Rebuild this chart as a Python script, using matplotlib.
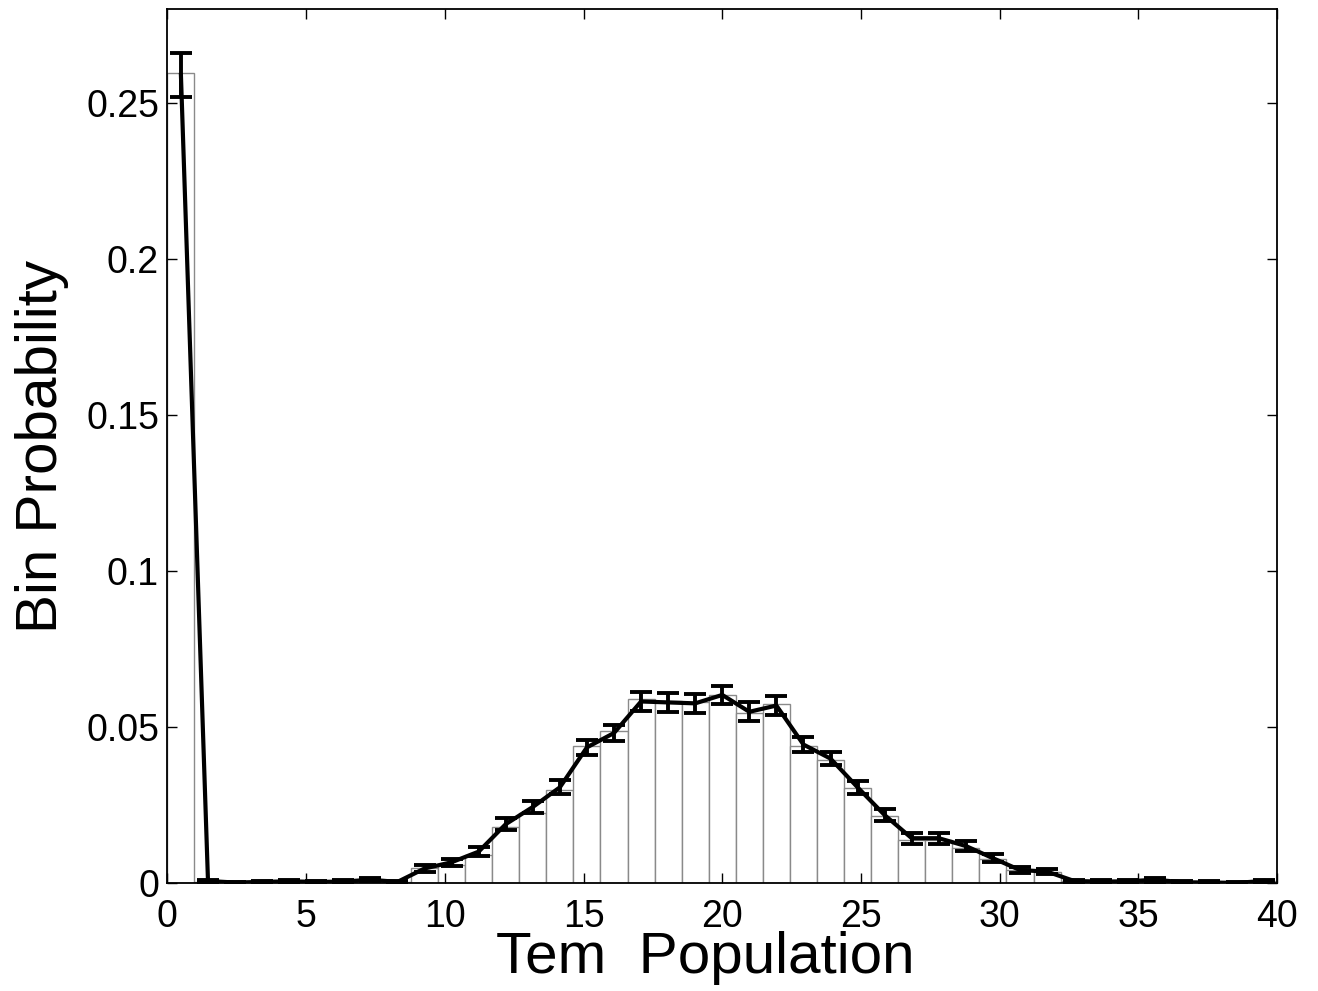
"""Histogram of Tem population with mean curve and error bars."""

import matplotlib
matplotlib.use("Agg")
import matplotlib.pyplot as plt
import numpy as np

# 41 bins spanning 0..40
BIN_EDGES = np.linspace(0, 40, 42)
BIN_CENTERS = (BIN_EDGES[:-1] + BIN_EDGES[1:]) / 2

BAR_PROB = [
    0.2595, 0.0006, 0.0003, 0.0005, 0.0007, 0.0005, 0.0006, 0.0010, 0.0006,
    0.0050, 0.0060, 0.0092, 0.0180, 0.0225, 0.0300, 0.0440, 0.0490,
    0.0590, 0.0585, 0.0580, 0.0605, 0.0545, 0.0575, 0.0440, 0.0395,
    0.0305, 0.0215, 0.0140, 0.0140, 0.0115, 0.0080, 0.0042, 0.0036,
    0.0008, 0.0006, 0.0007, 0.0011, 0.0004, 0.0003, 0.0002, 0.0008,
]

MEAN_PROB = [
    0.2590, 0.0008, 0.0003, 0.0005, 0.0007, 0.0005, 0.0006, 0.0012, 0.0005,
    0.0048, 0.0068, 0.0102, 0.0190, 0.0245, 0.0308, 0.0436, 0.0482,
    0.0583, 0.0580, 0.0577, 0.0604, 0.0550, 0.0570, 0.0445, 0.0400,
    0.0308, 0.0219, 0.0145, 0.0145, 0.0120, 0.0081, 0.0043, 0.0038,
    0.0008, 0.0006, 0.0007, 0.0012, 0.0004, 0.0003, 0.0002, 0.0008,
]

ERR = [
    0.0070, 0.0004, 0.0003, 0.0004, 0.0004, 0.0004, 0.0004, 0.0005, 0.0004,
    0.0010, 0.0012, 0.0015, 0.0020, 0.0020, 0.0022, 0.0025, 0.0025,
    0.0030, 0.0030, 0.0030, 0.0030, 0.0030, 0.0030, 0.0025, 0.0022,
    0.0020, 0.0020, 0.0018, 0.0017, 0.0015, 0.0013, 0.0009, 0.0009,
    0.0004, 0.0004, 0.0004, 0.0006, 0.0004, 0.0004, 0.0004, 0.0004,
]

X_TICKS = [0, 5, 10, 15, 20, 25, 30, 35, 40]
Y_TICKS = [0, 0.05, 0.1, 0.15, 0.2, 0.25]
Y_TICK_LABELS = ["0", "0.05", "0.1", "0.15", "0.2", "0.25"]


def main() -> None:
    plt.rcParams["font.family"] = ["Liberation Sans", "DejaVu Sans"]

    fig = plt.figure(figsize=(13.18, 9.91), dpi=100)
    ax = fig.add_axes([0.127, 0.1085, 0.842, 0.882])

    width = BIN_EDGES[1] - BIN_EDGES[0]
    ax.bar(BIN_CENTERS, BAR_PROB, width=width, color="white",
           edgecolor="#8a8a8a", linewidth=1.0, zorder=1)
    ax.errorbar(BIN_CENTERS, MEAN_PROB, yerr=ERR, color="black",
                linewidth=3.0, elinewidth=2.8, capsize=8, capthick=2.8,
                zorder=3)

    ax.set_xlim(0, 40)
    ax.set_ylim(0, 0.28)
    ax.set_xticks(X_TICKS)
    ax.set_xticklabels([str(t) for t in X_TICKS])
    ax.set_yticks(Y_TICKS)
    ax.set_yticklabels(Y_TICK_LABELS)
    ax.tick_params(direction="in", top=True, right=True, length=7,
                   width=1.0, labelsize=27, pad=6)
    ax.tick_params(axis="x", pad=11)
    for side in ax.spines.values():
        side.set_linewidth(1.3)

    ax.set_xlabel("Tem  Population", fontsize=42, va="baseline")
    ax.xaxis.set_label_coords(0.4845, -0.1024)
    ax.set_ylabel("Bin Probability", fontsize=42, labelpad=12)

    fig.savefig("out.png", dpi=100)
    plt.close(fig)


if __name__ == "__main__":
    main()
